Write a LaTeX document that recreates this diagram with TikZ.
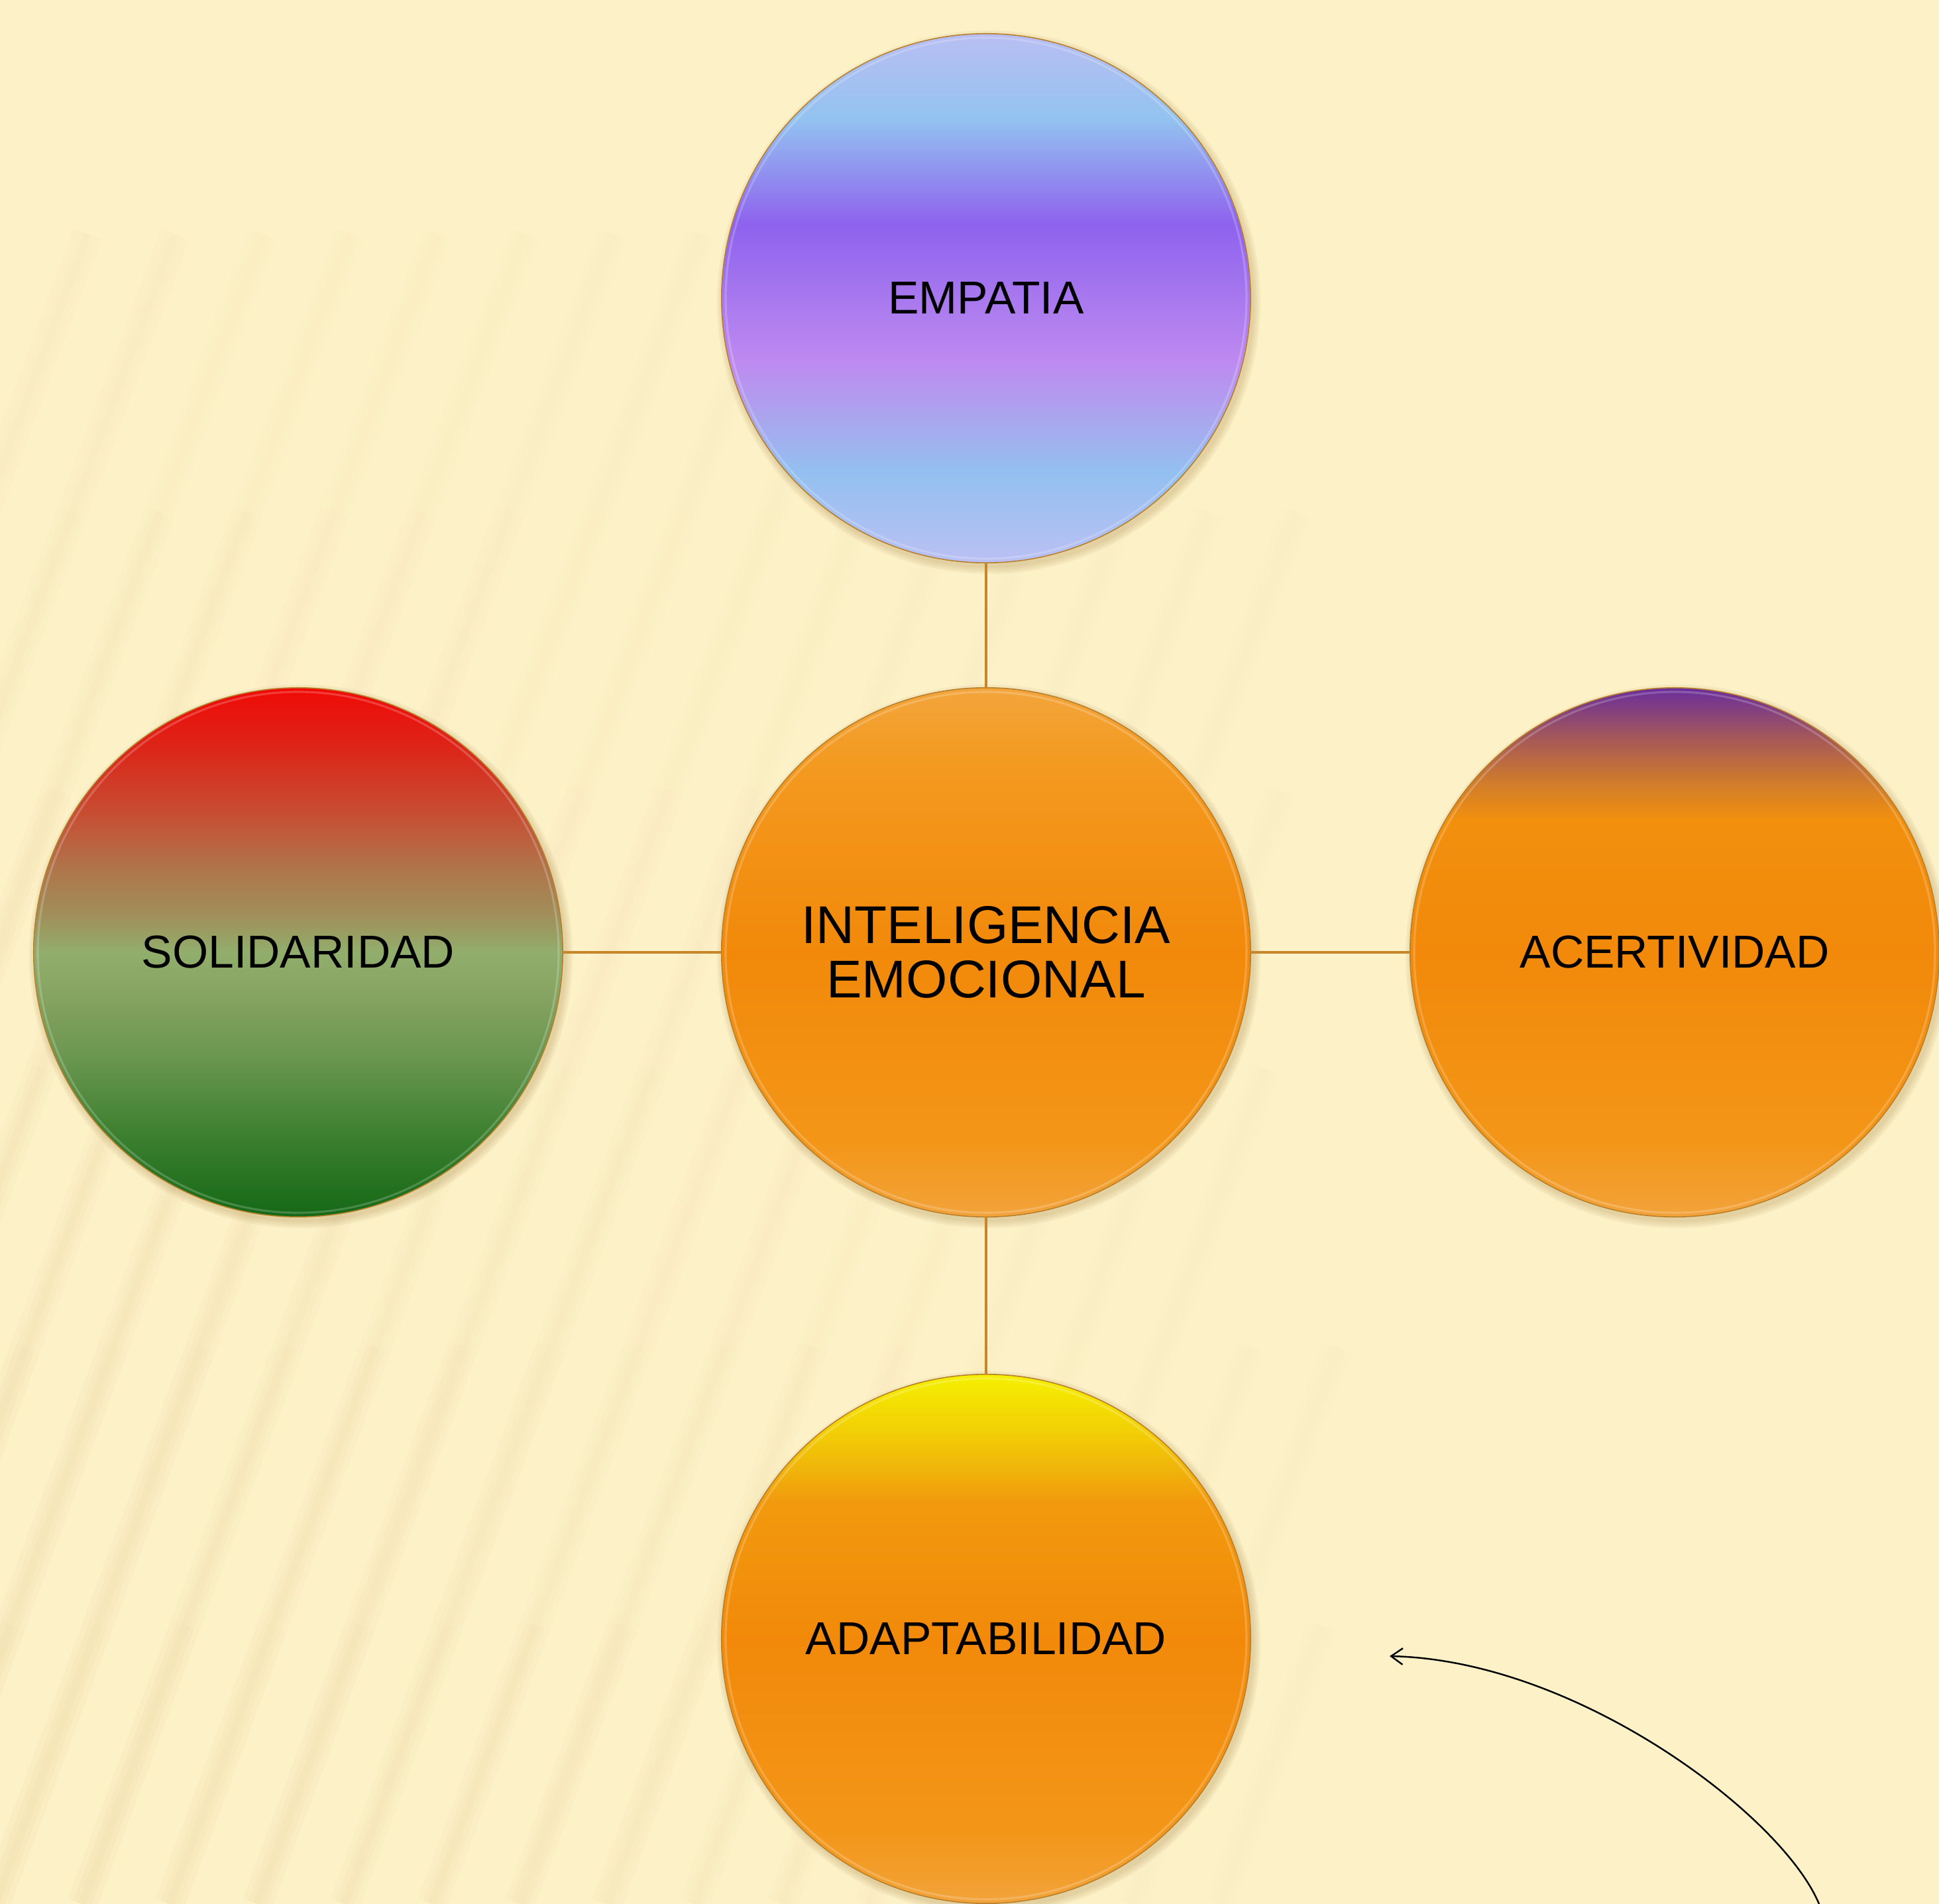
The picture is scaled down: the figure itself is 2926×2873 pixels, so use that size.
\documentclass[tikz,border=0pt]{standalone}
\usepackage{fontspec}
\setmainfont{Liberation Sans}
\usetikzlibrary{arrows.meta}
\definecolor{bg}{HTML}{FDF1C8}
\definecolor{stripe}{HTML}{E6D29A}
\definecolor{rim}{HTML}{B8802A}
\definecolor{shadowc}{HTML}{9A7A3A}
\definecolor{link}{HTML}{C8862A}
% empatia
\definecolor{ea}{HTML}{BBC0F3}\definecolor{eb}{HTML}{93C0F0}\definecolor{ec}{HTML}{AEA1EE}
\definecolor{ed}{HTML}{BE8AF0}\definecolor{ee}{HTML}{A878EE}\definecolor{ef}{HTML}{8E62EE}
\definecolor{eg}{HTML}{93C3F0}\definecolor{eh}{HTML}{B9BEF2}
% orange
\definecolor{oa}{HTML}{F2A33A}\definecolor{ob}{HTML}{F39618}\definecolor{oc}{HTML}{F2890A}
\definecolor{od}{HTML}{F39A20}\definecolor{oe}{HTML}{F3A53C}
% acertividad top
\definecolor{aa}{HTML}{F2900E}\definecolor{ab}{HTML}{D07C2C}\definecolor{ac}{HTML}{A85A55}\definecolor{ad}{HTML}{6A2E9C}
% solidaridad
\definecolor{sa}{HTML}{146816}\definecolor{sb}{HTML}{408232}\definecolor{sc}{HTML}{6A9650}
\definecolor{sd}{HTML}{88A562}\definecolor{se}{HTML}{92AE6C}\definecolor{sf}{HTML}{A08F5A}
\definecolor{sg}{HTML}{B0744A}\definecolor{sh}{HTML}{C55034}\definecolor{si}{HTML}{DD2418}\definecolor{sj}{HTML}{F00A06}
% adaptabilidad top
\definecolor{ya}{HTML}{F29A0E}\definecolor{yb}{HTML}{F0B40A}\definecolor{yc}{HTML}{F2CE06}\definecolor{yd}{HTML}{F5F000}

\pgfdeclareverticalshading{empshade}{100bp}{color(0bp)=(ea); color(25bp)=(ea); color(33.5bp)=(eb); color(39.5bp)=(ec); color(44bp)=(ed); color(50bp)=(ee); color(57bp)=(ef); color(67bp)=(eg); color(75bp)=(eh); color(100bp)=(eh)}
\pgfdeclareverticalshading{ieshade}{100bp}{color(0bp)=(oa); color(25bp)=(oa); color(32bp)=(ob); color(50bp)=(oc); color(68bp)=(od); color(75bp)=(oe); color(100bp)=(oe)}
\pgfdeclareverticalshading{acshade}{100bp}{color(0bp)=(oa); color(25bp)=(oa); color(32bp)=(ob); color(50bp)=(oc); color(62.5bp)=(aa); color(66bp)=(ab); color(70bp)=(ac); color(75bp)=(ad); color(100bp)=(ad)}
\pgfdeclareverticalshading{soshade}{100bp}{color(0bp)=(sa); color(25bp)=(sa); color(33.5bp)=(sb); color(40bp)=(sc); color(46.5bp)=(sd); color(50bp)=(se); color(53.5bp)=(sf); color(58bp)=(sg); color(62.75bp)=(sh); color(69.5bp)=(si); color(75bp)=(sj); color(100bp)=(sj)}
\pgfdeclareverticalshading{adshade}{100bp}{color(0bp)=(oa); color(25bp)=(oa); color(32bp)=(ob); color(50bp)=(oc); color(63bp)=(ya); color(66bp)=(yb); color(69.5bp)=(yc); color(75bp)=(yd); color(100bp)=(yd)}

\tikzset{
  bubble/.style={circle, minimum size=7.98cm, inner sep=0pt, outer sep=0pt, draw=rim, line width=0.45pt, text=black, font=\fontsize{19.8}{23}\selectfont},
  linkline/.style={draw=link, line width=1.1pt},
  curvearrow/.style={draw=black, line width=0.7pt, -{Straight Barb[length=5pt,width=7pt]}},
  softshadow/.style={fill=shadowc, fill opacity=0.07, draw=none},
  innerglow/.style={draw=white, draw opacity=0.2, line width=0.9pt, fill=none}
}

\begin{document}
\begin{tikzpicture}[x=0.01cm, y=-0.01cm]
\useasboundingbox (0,0) rectangle (2926,2873);
\fill[bg] (0,0) rectangle (2926,2873);

% faint soft diagonal stripes of the background, fading up and to the right
\foreach \i in {0,...,22} {
  \foreach \k in {0,...,5} {
    \pgfmathsetmacro{\ya}{2873-\k*420}
    \pgfmathsetmacro{\yb}{2873-(\k+1)*420}
    \pgfmathsetmacro{\xa}{-800+\i*132+0.37*(2873-\ya)}
    \pgfmathsetmacro{\xb}{-800+\i*132+0.37*(2873-\yb)}
    \pgfmathsetmacro{\op}{max(0,0.13*(1-\k/7)*(1-(\xa+\xb)/2/2000))}
    \draw[stripe, line width=13pt, draw opacity=\op] (\xa,\ya) -- (\xb,\yb);
    \draw[stripe, line width=8pt, draw opacity=\op] (\xa,\ya) -- (\xb,\yb);
    \draw[stripe, line width=3.5pt, draw opacity=\op] (\xa,\ya) -- (\xb,\yb);
  }
}

% soft shadows
\foreach \cx/\cy in {1488/450,1488/1437,450/1437,2527/1437,1488/2473} {
  \foreach \d in {2,5,8,11} {
    \fill[softshadow] ({\cx+4},{\cy+6}) circle ({399+\d});
  }
}

\node[bubble, shading=empshade] (emp) at (1488,450) {EMPATIA};
\node[bubble, shading=ieshade, align=center, font=\fontsize{22.8}{23.3}\selectfont] (ie) at (1488,1437) {INTELIGENCIA\\EMOCIONAL};
\node[bubble, shading=soshade] (sol) at (450,1437) {SOLIDARIDAD};
\node[bubble, shading=acshade] (ace) at (2527,1437) {ACERTIVIDAD};
\node[bubble, shading=adshade] (ada) at (1488,2473) {ADAPTABILIDAD};

% light bevel ring inside each circle
\foreach \n in {emp,ie,sol,ace,ada} {
  \draw[innerglow] (\n.center) circle (393);
}

\draw[linkline] (emp.south) -- (ie.north);
\draw[linkline] (ie.south) -- (ada.north);
\draw[linkline] (sol.east) -- (ie.west);
\draw[linkline] (ie.east) -- (ace.west);

\coordinate (arrA) at (2745,2873);
\coordinate (arrB) at (2097,2499);
\draw[curvearrow] (arrA) .. controls (2690,2740) and (2380,2505) .. (arrB);
\end{tikzpicture}
\end{document}
